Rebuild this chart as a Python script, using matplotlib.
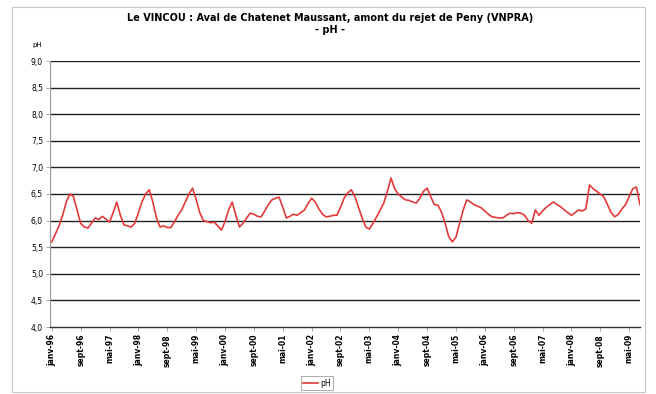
import matplotlib
matplotlib.use("Agg")
import matplotlib.pyplot as plt
from matplotlib.patches import Rectangle
from matplotlib.lines import Line2D

# Monthly pH values, janv-96 .. ~août-09
ph = [5.6, 5.75, 5.9, 6.1, 6.35, 6.5, 6.45, 6.2, 5.95, 5.88,
      5.86, 5.95, 6.05, 6.02, 6.08, 6.03, 5.97, 6.15, 6.35, 6.1,
      5.92, 5.9, 5.88, 5.95, 6.15, 6.35, 6.5, 6.58, 6.35, 6.05,
      5.88, 5.9, 5.87, 5.87, 5.98, 6.1, 6.2, 6.35, 6.5, 6.61,
      6.4, 6.15, 6.0, 5.98, 5.96, 5.97, 5.9, 5.82, 5.98, 6.2,
      6.35, 6.1, 5.88, 5.95, 6.05, 6.14, 6.12, 6.08, 6.07, 6.18,
      6.3, 6.39, 6.42, 6.44, 6.25, 6.05, 6.08, 6.12, 6.1, 6.15,
      6.2, 6.32, 6.42, 6.35, 6.22, 6.12, 6.07, 6.08, 6.1, 6.1,
      6.25, 6.42, 6.52, 6.58, 6.45, 6.25, 6.05, 5.88, 5.84, 5.95,
      6.07, 6.2, 6.33, 6.55, 6.8, 6.6, 6.5, 6.44, 6.39, 6.38,
      6.35, 6.33, 6.42, 6.55, 6.61, 6.45, 6.3, 6.29, 6.16, 5.95,
      5.7, 5.6, 5.69, 5.95, 6.2, 6.39, 6.35, 6.3, 6.27, 6.24,
      6.18, 6.12, 6.07, 6.06, 6.05, 6.05, 6.1, 6.14, 6.13, 6.15,
      6.14, 6.1, 6.0, 5.95, 6.2, 6.1, 6.18, 6.25, 6.3, 6.35,
      6.3, 6.26, 6.2, 6.15, 6.1, 6.15, 6.2, 6.18, 6.22, 6.67,
      6.6, 6.55, 6.5, 6.44, 6.3, 6.15, 6.07, 6.12, 6.22, 6.3,
      6.45, 6.6, 6.63, 6.3]
months = list(range(len(ph)))

x_tick_labels = ["janv-96", "sept-96", "mai-97", "janv-98", "sept-98", "mai-99",
                 "janv-00", "sept-00", "mai-01", "janv-02", "sept-02", "mai-03",
                 "janv-04", "sept-04", "mai-05", "janv-06", "sept-06", "mai-07",
                 "janv-08", "sept-08", "mai-09"]
x_tick_step = 8
y_ticks = [4.0, 4.5, 5.0, 5.5, 6.0, 6.5, 7.0, 7.5, 8.0, 8.5, 9.0]

W, H = 656, 394
fig = plt.figure(figsize=(W / 100, H / 100), dpi=100)
fig.patch.set_facecolor("white")

ax = fig.add_axes([50 / W, 1 - 327 / H, 590 / W, 266 / H])
ax.set_facecolor("white")

for yv in y_ticks[1:]:
    ax.axhline(yv, color="#222222", lw=1.0, zorder=1)

ax.plot(months, ph, color="#e23a3a", lw=1.2, zorder=3, label="pH")

ax.set_ylim(4.0, 9.0)
ax.set_xlim(-0.5, len(ph) - 1)
ax.set_yticks(y_ticks)
ax.set_yticklabels([f"{v:.1f}".replace(".", ",") for v in y_ticks], fontsize=5.5)
xt = [i * x_tick_step for i in range(len(x_tick_labels))]
ax.set_xticks(xt)
ax.set_xticklabels(x_tick_labels, rotation=90, fontsize=5.5, fontweight="bold")
ax.tick_params(axis="both", length=3, width=0.6, color="#999999", pad=2)

for s in ["top", "right"]:
    ax.spines[s].set_visible(False)
ax.spines["left"].set_color("#999999")
ax.spines["left"].set_linewidth(0.8)
ax.spines["bottom"].set_color("#333333")
ax.spines["bottom"].set_linewidth(1.0)

fig.text(330 / W, 1 - 18 / H,
         "Le VINCOU : Aval de Chatenet Maussant, amont du rejet de Peny (VNPRA)",
         ha="center", va="center", fontsize=7, fontweight="bold")
fig.text(330 / W, 1 - 30 / H, "- pH -", ha="center", va="center",
         fontsize=7, fontweight="bold")
fig.text(37 / W, 1 - 45 / H, "pH", ha="center", va="center", fontsize=5)

# outer chart frame
fig.add_artist(Rectangle((12 / W, 2 / H), 633 / W, 385 / H, transform=fig.transFigure,
                         fill=False, edgecolor="#c8c8c8", lw=0.8))

leg = fig.legend(handles=[Line2D([], [], color="#e23a3a", lw=1.2)], labels=["pH"],
                 loc="center", bbox_to_anchor=(317 / W, 1 - 383 / H), fontsize=5.5,
                 frameon=True, fancybox=False, edgecolor="#888888",
                 handlelength=2.0, borderpad=0.3, handletextpad=0.3)
leg.get_frame().set_linewidth(0.6)

fig.savefig("out.png", dpi=100, facecolor="white")
